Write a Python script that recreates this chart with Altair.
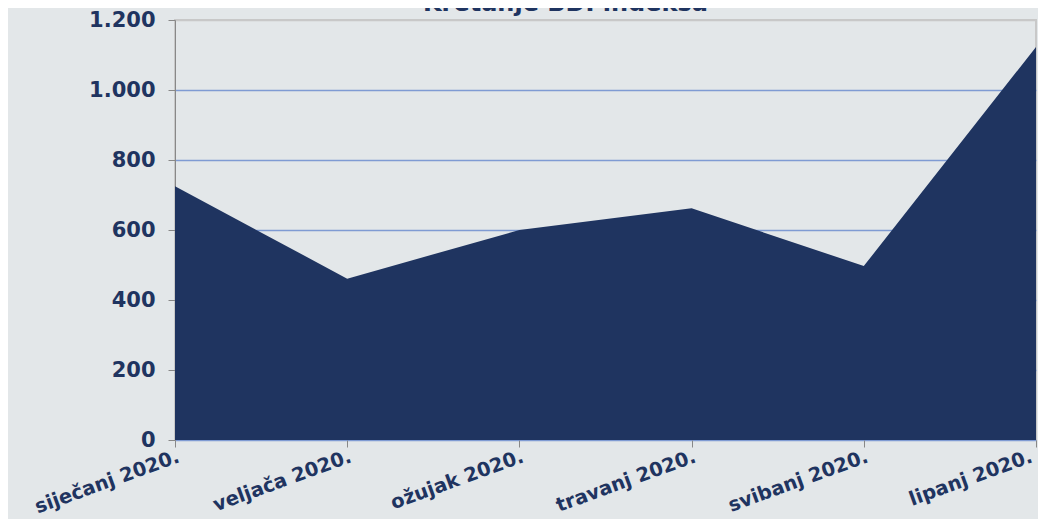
import altair as alt
import pandas as pd

months = ["siječanj 2020.", "veljača 2020.", "ožujak 2020.", "travanj 2020.", "svibanj 2020.", "lipanj 2020."]
values = [725, 461, 600, 662, 497, 1123]
y_ticks = [0, 200, 400, 600, 800, 1000, 1200]

df = pd.DataFrame({"mjesec": months, "bdi": values})

label_expr = "replace(format(datum.value, ',d'), ',', '.')"

chart = alt.Chart(df).mark_area(color="#1f3460", opacity=1).encode(
    x=alt.X("mjesec:N", sort=months, title=None,
            scale=alt.Scale(type="point", padding=0),
            axis=alt.Axis(labelAngle=-20, labelAlign="right", labelBaseline="top",
                          labelFont="DejaVu Sans", labelFontWeight="bold", labelFontSize=19.5,
                          labelColor="#1f3460", tickColor="#888888", tickSize=7,
                          labelOffset={"condition": {"test": "datum.value == 'lipanj 2020.'", "value": -8}, "value": 0},
                          domain=False, grid=False, labelPadding=0, labelOverlap=False, labelBound=False)),
    y=alt.Y("bdi:Q", title=None, scale=alt.Scale(domain=[0, 1200], nice=False),
            axis=alt.Axis(values=y_ticks, labelExpr=label_expr,
                          labelFont="DejaVu Sans", labelFontWeight="bold", labelFontSize=21,
                          labelColor="#1f3460", tickColor="#888888", tickSize=7,
                          domainColor="#888888",
                          gridColor={"condition": {"test": "datum.value == 1200", "value": "#c8c8c8"}, "value": "#7f9bd3"},
                          gridWidth=1.3,
                          labelPadding=13)),
).properties(
    width=861, height=420,
    title=alt.TitleParams("Kretanje BDI indeksa", font="DejaVu Sans", fontSize=24,
                          fontWeight="bold", color="#1f3460", anchor="middle",
                          dx=-40, baseline="alphabetic", offset=0, dy=26),
    background="#e3e7e9",
    autosize=alt.AutoSizeParams(type="none"),
    padding={"left": 167, "top": 12, "right": 2, "bottom": 79},
).configure_view(stroke="#c8c8c8", strokeWidth=2)

chart.save("out.html", embed_options={"renderer": "svg", "actions": False})
